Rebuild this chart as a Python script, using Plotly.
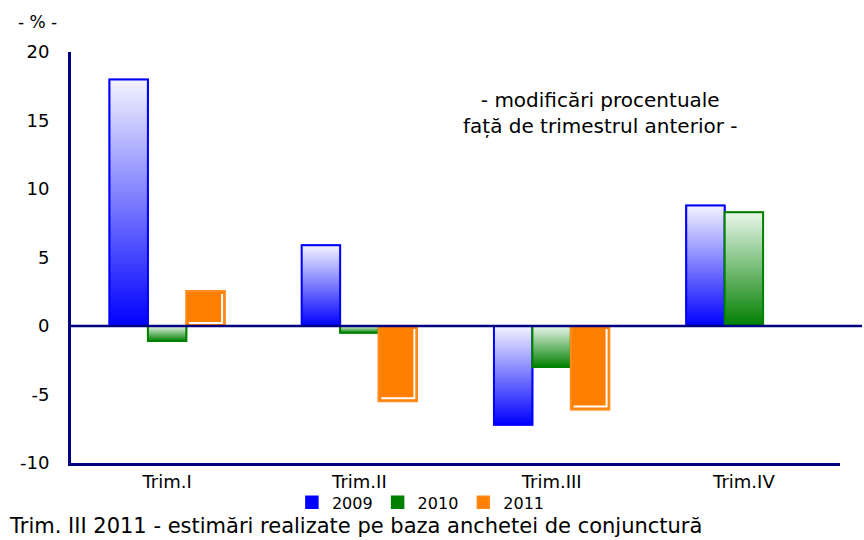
import plotly.graph_objects as go

categories = ["Trim.I", "Trim.II", "Trim.III", "Trim.IV"]
series_names = ["2009", "2010", "2011"]
v2009 = [18.0, 5.9, -7.2, 8.8]
v2010 = [-1.1, -0.5, -3.0, 8.3]
v2011 = [2.55, -5.5, -6.1, None]
yticks = [-10, -5, 0, 5, 10, 15, 20]
yticktext = ["-10", "-5", "0", "5", "10", "15", "20"]

values = [v2009, v2010, v2011]
dark = ["#0000FF", "#008000", "#FF8000"]
light = ["#F4F4FF", "#EAF6EA", "#FF8000"]
lines = ["#0000FF", "#008000", "#FF8C1A"]

FONT = "DejaVu Sans"
bargap = 0.4
w = (1 - bargap) / 3
fig = go.Figure()

# legend / base bars
for k, name in enumerate(series_names):
    fig.add_trace(go.Bar(
        x=list(range(len(categories))), y=values[k], name=name,
        marker=dict(color=dark[k], line=dict(color=lines[k], width=1.5)),
        width=w, offset=-0.3 + k * w,
    ))

# gradient overlays
for k in range(3):
    for i, v in enumerate(values[k]):
        if v is None:
            continue
        x0 = i - 0.3 + k * w
        x1 = x0 + w
        fig.add_trace(go.Scatter(
            x=[x0, x1, x1, x0, x0], y=[0, 0, v, v, 0],
            mode="lines", fill="toself",
            fillgradient=dict(type="vertical", colorscale=[[0, dark[k]], [1, light[k]]]),
            line=dict(color=lines[k], width=2),
            showlegend=False, hoverinfo="skip",
        ))
        if k == 2:
            # white inner shadow line on right & bottom
            dx = 0.014
            ylo = min(0, v) + 0.22
            yhi = max(0, v) - 0.22
            fig.add_trace(go.Scatter(
                x=[x0 + dx, x1 - dx, x1 - dx], y=[ylo, ylo, yhi],
                mode="lines", line=dict(color="white", width=2),
                showlegend=False, hoverinfo="skip",
            ))

fig.update_layout(
    width=864, height=540,
    margin=dict(l=71, r=24, t=52, b=77),
    paper_bgcolor="white", plot_bgcolor="white",
    font=dict(family=FONT, size=17, color="black"),
    barmode="overlay",
    showlegend=True,
    legend=dict(orientation="h", x=0.455, xanchor="center", y=-0.096, yanchor="middle",
                font=dict(size=16, family=FONT), itemwidth=30, traceorder="normal",
                bgcolor="rgba(0,0,0,0)", tracegroupgap=0),
    xaxis=dict(range=[-0.5, 3.5], tickvals=list(range(len(categories))), ticktext=categories,
               showline=True, linecolor="#000080", linewidth=3, showgrid=False,
               zeroline=False, ticks="", tickfont=dict(size=18), automargin=False),
    yaxis=dict(range=[-10, 20], tickvals=yticks, ticktext=yticktext, showline=True,
               linecolor="#000080", linewidth=3, showgrid=False, zeroline=False,
               ticks="", ticklabelstandoff=15, tickfont=dict(size=18), automargin=False),
    shapes=[dict(type="line", xref="paper", yref="y", x0=0, x1=1.0286, y0=0, y1=0,
                 line=dict(color="#000080", width=2.5), layer="above")],
    annotations=[
        dict(text="- % -", xref="paper", yref="paper", x=-0.044, y=1.073,
             xanchor="center", yanchor="middle", showarrow=False, font=dict(size=17)),
        dict(text="- modificări procentuale<br>față de trimestrul anterior -",
             xref="paper", yref="paper", x=0.688, y=0.852, xanchor="center", yanchor="middle",
             showarrow=False, font=dict(size=20), align="center"),
        dict(text="Trim. III 2011 - estimări realizate pe baza anchetei de conjunctură",
             xref="paper", yref="paper", x=-0.083, y=-0.1868, xanchor="left", yanchor="bottom",
             showarrow=False, font=dict(size=21)),
    ],
)

fig.write_html("out.html", config={"displayModeBar": False},
               post_script="document.body.style.margin='0';")
